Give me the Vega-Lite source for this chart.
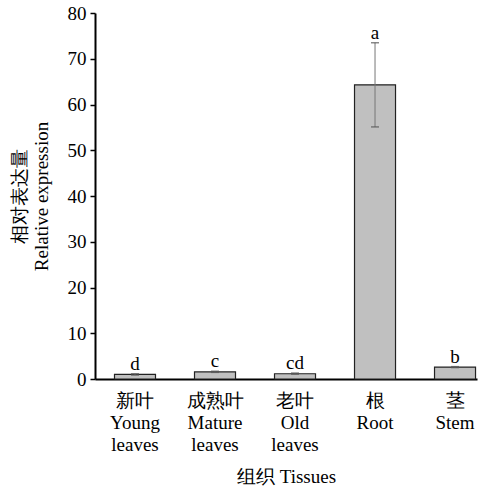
{
  "$schema": "https://vega.github.io/schema/vega-lite/v6.json",
  "width": 382,
  "height": 366,
  "autosize": {"type": "none"},
  "padding": {"left": 95, "top": 13, "right": 4, "bottom": 111},
  "background": "white",
  "config": {
    "view": {"stroke": null},
    "font": "Liberation Serif",
    "axis": {"grid": false, "domainColor": "black", "domainWidth": 2, "labelColor": "black", "titleColor": "black", "labelFont": "Liberation Serif", "titleFont": "Liberation Serif", "titleFontWeight": "normal"}
  },
  "data": {
    "values": [
      {"tissue": "新叶|Young|leaves", "mean": 1.0, "lo": 0.85, "hi": 1.15, "sig": "d"},
      {"tissue": "成熟叶|Mature|leaves", "mean": 1.55, "lo": 1.45, "hi": 1.7, "sig": "c"},
      {"tissue": "老叶|Old|leaves", "mean": 1.15, "lo": 1.05, "hi": 1.3, "sig": "cd"},
      {"tissue": "根|Root", "mean": 64.3, "lo": 55.1, "hi": 73.5, "sig": "a"},
      {"tissue": "茎|Stem", "mean": 2.6, "lo": 2.5, "hi": 2.7, "sig": "b"}
    ]
  },
  "encoding": {
    "x": {
      "field": "tissue", "type": "nominal", "sort": null,
      "scale": {"paddingInner": 0.4875, "paddingOuter": 0.131, "align": 0.93},
      "axis": {
        "title": "组织  Tissues", "titleFontSize": 19, "titlePadding": 13,
        "labelAngle": 0, "labelFontSize": 19, "labelLineHeight": 22, "labelPadding": 12,
        "ticks": false,
        "labelExpr": "split(datum.label, '|')"
      }
    }
  },
  "layer": [
    {
      "mark": {"type": "bar", "fill": "#c0c0c0", "stroke": "#222222", "strokeWidth": 1.2},
      "encoding": {
        "y": {
          "field": "mean", "type": "quantitative",
          "scale": {"domain": [0, 80], "nice": false},
          "axis": {
            "orient": "left",
            "title": ["相对表达量", "Relative expression"],
            "titleFontSize": 19, "titleLineHeight": 22, "titlePadding": 16,
            "values": [0, 10, 20, 30, 40, 50, 60, 70, 80],
            "labelFontSize": 19, "ticks": true, "tickSize": 5, "tickWidth": 1.5, "tickColor": "black", "labelPadding": 4
          }
        }
      }
    },
    {
      "mark": {"type": "rule", "color": "#777777", "strokeWidth": 1},
      "encoding": {"y": {"field": "lo", "type": "quantitative"}, "y2": {"field": "hi"}}
    },
    {
      "mark": {"type": "tick", "color": "#555555", "size": 8, "thickness": 1.5},
      "encoding": {"y": {"field": "hi", "type": "quantitative"}}
    },
    {
      "mark": {"type": "tick", "color": "#555555", "size": 8, "thickness": 1.5},
      "encoding": {"y": {"field": "lo", "type": "quantitative"}}
    },
    {
      "mark": {"type": "text", "fontSize": 19, "dy": -10, "color": "black", "font": "Liberation Serif"},
      "encoding": {"y": {"field": "hi", "type": "quantitative"}, "text": {"field": "sig"}}
    }
  ]
}
